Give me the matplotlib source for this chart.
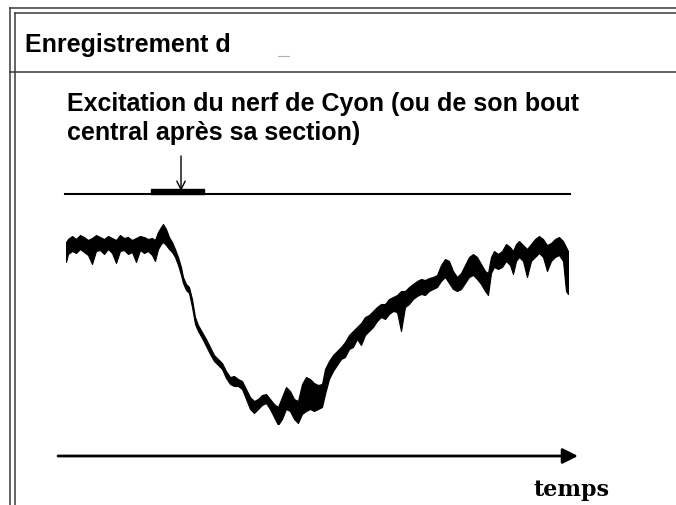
import matplotlib
matplotlib.use("Agg")
import matplotlib.pyplot as plt
from matplotlib.patches import Rectangle

# recording "d": time (arbitrary units) and pressure band (upper / lower edge)
t = [0, 2, 6, 10, 14, 18, 22, 26, 30, 34, 38, 42, 46, 50, 54, 58, 62, 66, 70, 74,
     78, 82, 86, 89, 92, 95, 97, 100, 103, 106, 109, 112, 115, 117, 120, 123, 126,
     129, 132, 136, 140, 144, 148, 152, 156, 160, 164, 168, 172, 176, 180, 184, 188,
     192, 196, 200, 204, 208, 212, 216, 220, 224, 228, 232, 236, 240, 244, 248, 252,
     256, 259, 263, 267, 271, 275, 279, 283, 287, 291, 295, 299, 303, 307, 311, 315,
     319, 323, 327, 331, 335, 339, 343, 347, 351, 355, 359, 363, 367, 371, 375, 379,
     383, 387, 391, 395, 399, 403, 407, 411, 415, 419, 422, 425, 428, 432, 436, 440,
     444, 447, 450, 453, 457, 461, 465, 469, 473, 477, 481, 485, 489, 493, 497, 500, 502]
p_hi = [182, 185, 188, 185, 189, 187, 184, 186, 189, 187, 185, 188, 186, 184, 189, 186,
        187, 184, 186, 188, 187, 185, 186, 184, 192, 197, 200, 195, 187, 182, 175, 167,
        157, 147, 140, 137, 125, 107, 99, 92, 85, 77, 69, 65, 61, 53, 47, 48, 45, 43,
        35, 27, 23, 25, 29, 30, 25, 20, 17, 27, 37, 33, 25, 23, 40, 47, 45, 41, 39, 40,
        55, 63, 69, 73, 77, 82, 89, 93, 97, 101, 107, 109, 113, 117, 120, 120, 125, 127,
        129, 133, 133, 137, 140, 143, 145, 144, 146, 147, 149, 159, 165, 163, 153, 147,
        151, 159, 167, 170, 167, 160, 153, 151, 167, 173, 170, 173, 180, 177, 173, 180,
        183, 179, 175, 180, 185, 188, 185, 179, 181, 185, 187, 183, 177, 173]
p_lo = [162, 170, 173, 171, 175, 172, 169, 160, 173, 174, 170, 175, 171, 161, 173, 174,
        170, 172, 162, 174, 171, 173, 169, 163, 175, 180, 182, 179, 175, 172, 167, 159,
        149, 141, 134, 131, 117, 100, 93, 86, 78, 70, 63, 59, 55, 46, 40, 38, 38, 35,
        25, 15, 11, 15, 19, 21, 15, 7, -1, 5, 15, 13, 5, 1, 10, 13, 15, 13, 15, 17,
        30, 45, 53, 59, 65, 67, 75, 77, 85, 79, 89, 93, 97, 103, 107, 105, 110, 113,
        112, 93, 117, 120, 125, 128, 130, 129, 133, 135, 137, 143, 147, 141, 135, 133,
        135, 141, 147, 149, 145, 140, 133, 129, 151, 157, 155, 157, 163, 159, 150, 163,
        167, 163, 147, 163, 167, 171, 167, 153, 163, 167, 169, 163, 133, 130]

stim_start, stim_end = 85, 138
stim_mark = 115

fig = plt.figure(figsize=(6.76, 5.06), dpi=100)

# frame and texts, laid out in pixel units
ax0 = fig.add_axes([0, 0, 1, 1])
ax0.set_xlim(0, 676)
ax0.set_ylim(506, 0)
ax0.axis("off")

edge = "#3a3a3a"
ax0.plot([10, 10], [9, 506], color=edge, lw=1.1)
ax0.plot([14.5, 14.5], [13.5, 506], color=edge, lw=1.1)
ax0.plot([10, 676], [9, 9], color=edge, lw=1.1)
ax0.plot([14.5, 676], [13.5, 13.5], color=edge, lw=1.1)
ax0.plot([10, 676], [73, 73], color=edge, lw=1.1)
ax0.plot([278, 289], [57, 57], color="#b0b0b0", lw=0.8)

sans = ["Liberation Sans", "DejaVu Sans"]
ax0.text(25, 52, "Enregistrement d", family=sans, weight="bold", fontsize=18,
         va="baseline", ha="left")
ax0.text(67, 111, "Excitation du nerf de Cyon (ou de son bout", family=sans,
         weight="bold", fontsize=18, va="baseline", ha="left")
ax0.text(67, 140, "central après sa section)", family=sans,
         weight="bold", fontsize=18, va="baseline", ha="left")
ax0.text(571, 496, "temps", family=["DejaVu Serif"], weight="bold", fontsize=16,
         va="baseline", ha="center")

# trace
ax = fig.add_axes([66 / 676, 81 / 506, 502 / 676, 200 / 506])
ax.set_xlim(0, 502)
ax.set_ylim(0, 200)
ax.axis("off")

ax.fill_between(t, p_lo, p_hi, color="black", lw=0.8, edgecolor="black")

# stimulation line and marker
ax.plot([-1, 504], [230, 230], color="black", lw=1.5, clip_on=False)
ax.add_patch(Rectangle((stim_start, 230), stim_end - stim_start, 5,
                       color="black", clip_on=False))
ax.annotate("", xy=(stim_mark, 233), xytext=(stim_mark, 268),
            arrowprops=dict(arrowstyle="->", lw=1, color="black",
                            mutation_scale=15, shrinkA=0, shrinkB=0),
            annotation_clip=False)

# time axis
ax.annotate("", xy=(512, -32), xytext=(-8, -32),
            arrowprops=dict(arrowstyle="-|>", lw=2, color="black",
                            mutation_scale=23, shrinkA=0, shrinkB=0),
            annotation_clip=False)

fig.savefig("out.png", dpi=100)
